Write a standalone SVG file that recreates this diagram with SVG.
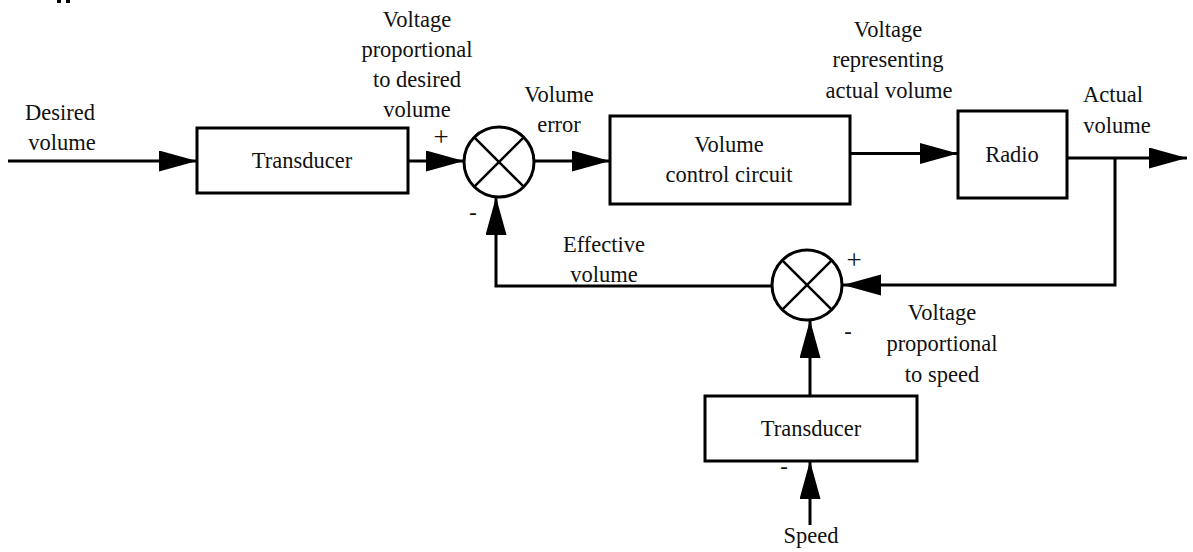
<svg xmlns="http://www.w3.org/2000/svg" width="1193" height="552" viewBox="0 0 1193 552">
<defs>
<marker id="ah" markerUnits="userSpaceOnUse" markerWidth="40" markerHeight="22" refX="38" refY="10.5" orient="auto">
<path d="M0,0 L38,10.5 L0,21 z" fill="#000"/>
</marker>
<style>
text{font-family:"Liberation Serif","Times New Roman",serif;font-size:22.5px;fill:#111;text-anchor:middle}
.sign{font-size:27px}
.box{fill:#fff;stroke:#000;stroke-width:3}
.sum{fill:#fff;stroke:#000;stroke-width:3}
.x{stroke:#000;stroke-width:2.5}
.wire{fill:none;stroke:#000;stroke-width:3}
</style>
</defs>
<rect width="1193" height="552" fill="#fff"/>
<rect x="57" y="0" width="4" height="3" fill="#000"/>
<rect x="66" y="0" width="4" height="3" fill="#000"/>

<g id="connectors">
<path class="wire" d="M8,161 H197" marker-end="url(#ah)"/>
<path class="wire" d="M408,161 H464" marker-end="url(#ah)"/>
<path class="wire" d="M534,161 H610" marker-end="url(#ah)"/>
<path class="wire" d="M850,153.5 H958" marker-end="url(#ah)"/>
<path class="wire" d="M1067,158 H1187" marker-end="url(#ah)"/>
<path class="wire" d="M1115,158 V285 H843" marker-end="url(#ah)"/>
<path class="wire" d="M773,286 H496 V197" marker-end="url(#ah)"/>
<path class="wire" d="M810,396 V320" marker-end="url(#ah)"/>
<path class="wire" d="M810,525 V461" marker-end="url(#ah)"/>
</g>

<g id="label-desired">
<text x="60" y="120">Desired</text>
<text x="62" y="150">volume</text>
</g>

<g id="transducer1">
<rect class="box" x="197" y="128" width="211" height="65"/>
<text x="302" y="168">Transducer</text>
</g>

<g id="label-vpdv">
<text x="417" y="27">Voltage</text>
<text x="417" y="57">proportional</text>
<text x="417" y="87">to desired</text>
<text x="417" y="116.5">volume</text>
</g>

<g id="sum1">
<circle class="sum" cx="499" cy="162" r="35"/>
<line class="x" x1="474.3" y1="137.3" x2="523.7" y2="186.7"/>
<line class="x" x1="523.7" y1="137.3" x2="474.3" y2="186.7"/>
<text class="sign" x="441" y="146">+</text>
<text x="473" y="220">-</text>
</g>

<g id="label-error">
<text x="559" y="102">Volume</text>
<text x="559" y="132">error</text>
</g>

<g id="vcc">
<rect class="box" x="610" y="116" width="240" height="88"/>
<text x="729" y="152">Volume</text>
<text x="729" y="182">control circuit</text>
</g>

<g id="label-vrav">
<text x="888" y="37">Voltage</text>
<text x="888" y="67">representing</text>
<text x="889" y="98">actual volume</text>
</g>

<g id="radio">
<rect class="box" x="958" y="111" width="109" height="87"/>
<text x="1012" y="162">Radio</text>
</g>

<g id="label-actual">
<text x="1113" y="102">Actual</text>
<text x="1117" y="133">volume</text>
</g>

<g id="label-effective">
<text x="604" y="252">Effective</text>
<text x="604" y="282">volume</text>
</g>

<g id="sum2">
<circle class="sum" cx="807" cy="285" r="35"/>
<line class="x" x1="782.3" y1="260.3" x2="831.7" y2="309.7"/>
<line class="x" x1="831.7" y1="260.3" x2="782.3" y2="309.7"/>
<text class="sign" x="854" y="269">+</text>
<text x="848" y="339">-</text>
</g>

<g id="label-vps">
<text x="942" y="320">Voltage</text>
<text x="942" y="351">proportional</text>
<text x="942" y="382">to speed</text>
</g>

<g id="transducer2">
<rect class="box" x="705" y="396" width="212" height="65"/>
<text x="811" y="436">Transducer</text>
<text x="784" y="474">-</text>
</g>

<g id="label-speed">
<text x="811" y="543">Speed</text>
</g>
</svg>
